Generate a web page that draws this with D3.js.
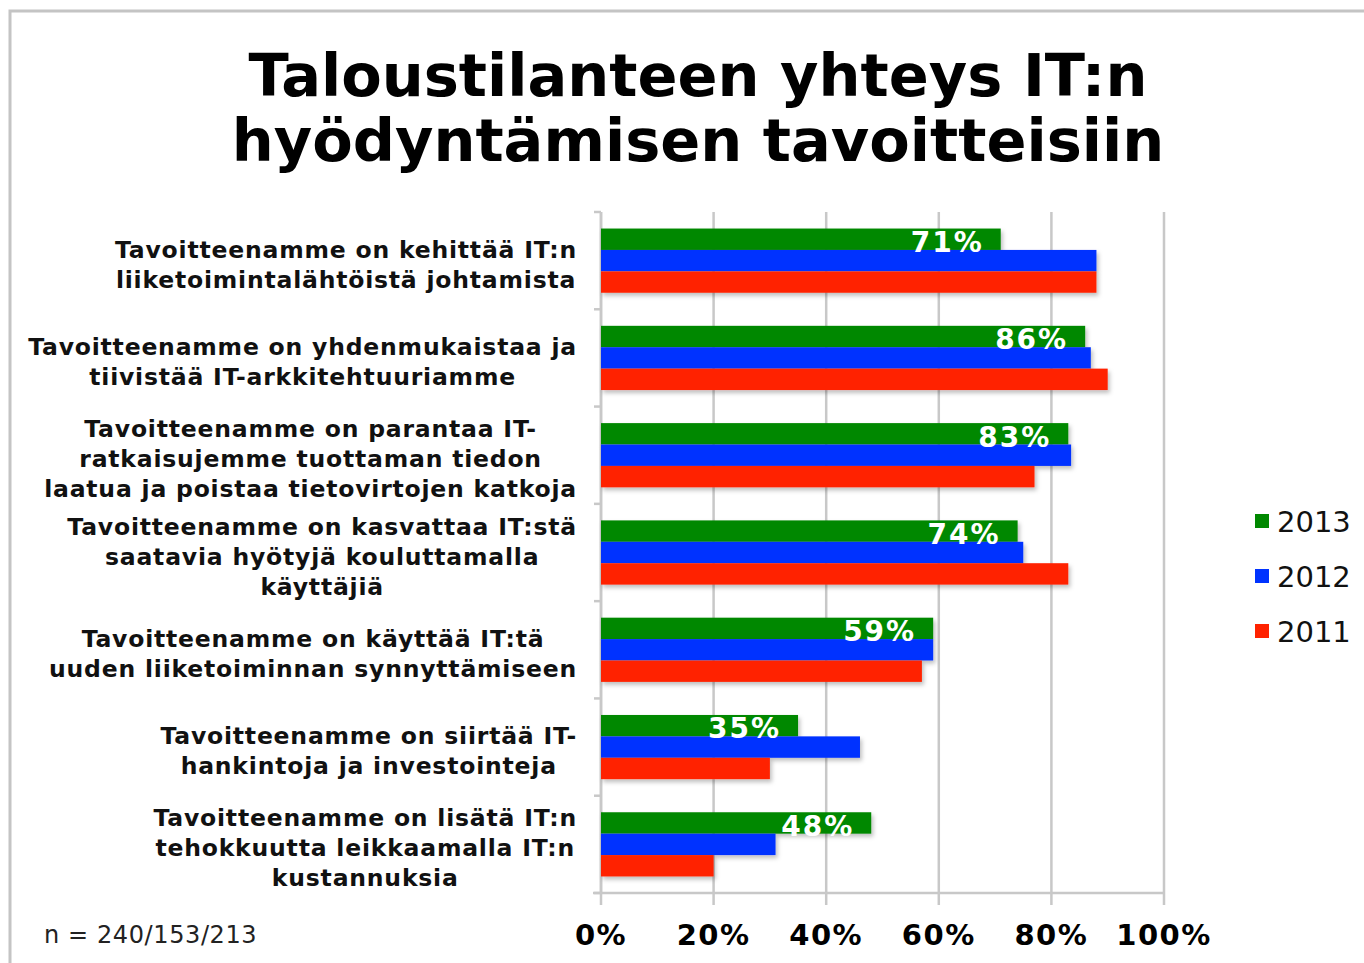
<!DOCTYPE html>
<html>
<head>
<meta charset="utf-8">
<script src="https://cdn.jsdelivr.net/npm/d3@7"></script>
<style>
  body { margin: 0; background: #fff; }
  svg { display: block; }
</style>
</head>
<body>
<svg width="1364" height="963"></svg>
<script>
// Kategoriat (rivit)
const categories = [
  ["Tavoitteenamme on kehittää IT:n", "liiketoimintalähtöistä johtamista"],
  ["Tavoitteenamme on yhdenmukaistaa ja", "tiivistää IT-arkkitehtuuriamme"],
  ["Tavoitteenamme on parantaa IT-", "ratkaisujemme tuottaman tiedon", "laatua ja poistaa tietovirtojen katkoja"],
  ["Tavoitteenamme on kasvattaa IT:stä", "saatavia hyötyjä kouluttamalla", "käyttäjiä"],
  ["Tavoitteenamme on käyttää IT:tä", "uuden liiketoiminnan synnyttämiseen"],
  ["Tavoitteenamme on siirtää IT-", "hankintoja ja investointeja"],
  ["Tavoitteenamme on lisätä IT:n", "tehokkuutta leikkaamalla IT:n", "kustannuksia"]
];
const years = ["2013", "2012", "2011"];
const values2013 = [71, 86, 83, 74, 59, 35, 48];
const values2012 = [88, 87, 83.5, 75, 59, 46, 31];
const values2011 = [88, 90, 77, 83, 57, 30, 20];
const xTicks = [0, 20, 40, 60, 80, 100];
const colors = ["#008800", "#0033ff", "#ff2200"];

const series = [values2013, values2012, values2011];
const svg = d3.select("svg");

// Kehys
svg.append("path").attr("d", "M10,963 L10,11 L1364,11")
  .attr("fill", "none").attr("stroke", "#c4c4c4").attr("stroke-width", 3);

// Otsikko
const title = svg.append("text").attr("text-anchor", "middle")
  .attr("font-family", "DejaVu Sans").attr("font-weight", "bold").attr("font-size", 59).attr("fill", "#000");
title.append("tspan").attr("x", 698).attr("y", 96).text("Taloustilanteen yhteys IT:n");
title.append("tspan").attr("x", 698).attr("y", 161).text("hyödyntämisen tavoitteisiin");

const plotLeft = 601, plotRight = 1164, plotTop = 212, plotBottom = 893;
const x = d3.scaleLinear().domain([0, 100]).range([plotLeft, plotRight]);
const y = d3.scaleBand().domain(d3.range(categories.length)).range([plotTop, plotBottom]).paddingInner(0.34).paddingOuter(0.17);
const yy = d3.scaleBand().domain(d3.range(years.length)).range([0, y.bandwidth()]);

// Ruudukko
svg.append("g").selectAll("line").data(xTicks).enter().append("line")
  .attr("x1", d => x(d)).attr("x2", d => x(d))
  .attr("y1", plotTop).attr("y2", plotBottom + 12)
  .attr("stroke", "#c8c8c8").attr("stroke-width", 2.5);

// Y-akselin jakoviivat
const yTickPos = d3.range(categories.length + 1).map(i => plotTop + i * y.step());
svg.append("g").selectAll("line").data(yTickPos).enter().append("line")
  .attr("x1", plotLeft - 7).attr("x2", plotLeft).attr("y1", d => d).attr("y2", d => d)
  .attr("stroke", "#c8c8c8").attr("stroke-width", 2.5);
svg.append("line").attr("x1", plotLeft).attr("x2", plotLeft).attr("y1", plotTop).attr("y2", plotBottom)
  .attr("stroke", "#c8c8c8").attr("stroke-width", 2.5);
svg.append("line").attr("x1", plotLeft - 8).attr("x2", plotRight).attr("y1", plotBottom).attr("y2", plotBottom)
  .attr("stroke", "#c8c8c8").attr("stroke-width", 2.5);

// Varjo
const defs = svg.append("defs");
const f = defs.append("filter").attr("id", "shadow").attr("x", "-5%").attr("y", "-20%").attr("width", "115%").attr("height", "160%");
f.append("feDropShadow").attr("dx", 2).attr("dy", 3).attr("stdDeviation", 2).attr("flood-color", "#000").attr("flood-opacity", 0.25);

// Palkit
const groups = svg.append("g").selectAll("g").data(categories).enter().append("g")
  .attr("transform", (d, i) => `translate(0, ${y(i)})`);
series.forEach((vals, s) => {
  groups.append("rect")
    .attr("x", plotLeft)
    .attr("y", yy(s))
    .attr("width", (d, i) => x(vals[i]) - plotLeft)
    .attr("height", yy.bandwidth())
    .attr("fill", colors[s])
    .attr("filter", "url(#shadow)");
});

// Arvot 2013
groups.append("text")
  .attr("x", (d, i) => x(values2013[i]) - 17)
  .attr("y", yy(0) + yy.bandwidth() + 2)
  .attr("text-anchor", "end")
  .attr("font-family", "DejaVu Sans").attr("font-weight", "bold").attr("font-size", 28)
  .attr("letter-spacing", 2)
  .attr("fill", "#fff")
  .text((d, i) => values2013[i] + "%");

// Kategorianimet
const lab = svg.append("g").selectAll("text").data(categories).enter().append("text")
  .attr("font-family", "DejaVu Sans").attr("font-weight", "bold").attr("font-size", 23.5)
  .attr("letter-spacing", 0.8)
  .attr("fill", "#111").attr("text-anchor", "middle");
lab.each(function(lines, i) {
  const t = d3.select(this);
  const cy = y(i) + y.bandwidth() / 2 + 4;
  const lh = 30;
  lines.forEach((ln, k) => {
    t.append("tspan").attr("y", cy + (k - (lines.length - 1) / 2) * lh + 8).text(ln);
  });
  let maxW = 0;
  t.selectAll("tspan").each(function() { maxW = Math.max(maxW, this.getComputedTextLength()); });
  t.selectAll("tspan").attr("x", 577 - maxW / 2);
});

// X-akselin nimet
svg.append("g").selectAll("text").data(xTicks).enter().append("text")
  .attr("x", d => x(d)).attr("y", 945)
  .attr("text-anchor", "middle")
  .attr("font-family", "DejaVu Sans").attr("font-weight", "bold").attr("font-size", 29)
  .attr("letter-spacing", 1.5)
  .attr("fill", "#000")
  .text(d => d + "%");

// n
svg.append("text").attr("x", 44).attr("y", 943)
  .attr("font-family", "DejaVu Sans").attr("font-size", 24).attr("letter-spacing", 0.6).attr("fill", "#222")
  .text("n = 240/153/213");

// Selite
const leg = svg.append("g").selectAll("g").data(years).enter().append("g")
  .attr("transform", (d, i) => `translate(1255, ${521 + i * 55})`);
leg.append("rect").attr("x", 0).attr("y", -7).attr("width", 14).attr("height", 14)
  .attr("fill", (d, i) => colors[i]);
leg.append("text").attr("x", 22).attr("y", 11)
  .attr("font-family", "DejaVu Sans").attr("font-size", 29).attr("fill", "#111")
  .text(d => d);
</script>
</body>
</html>
